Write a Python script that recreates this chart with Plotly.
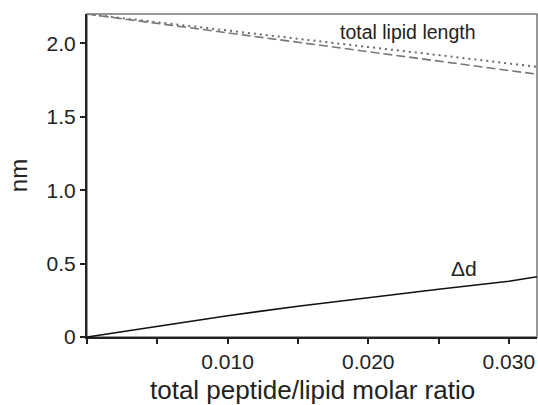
import plotly.graph_objects as go

ratio = [0.0, 0.005, 0.010, 0.015, 0.020, 0.025, 0.030, 0.032]
lipid_total = [2.20, 2.145, 2.09, 2.03, 1.975, 1.92, 1.865, 1.84]
lipid_dashed = [2.20, 2.135, 2.07, 2.005, 1.94, 1.875, 1.815, 1.79]
delta_d = [0.0, 0.075, 0.145, 0.21, 0.27, 0.325, 0.38, 0.41]

x_tickvals = [0.0, 0.010, 0.020, 0.030]
x_ticktext = ["", "0.010", "0.020", "0.030"]
y_tickvals = [0, 0.5, 1.0, 1.5, 2.0]
y_ticktext = ["0", "0.5", "1.0", "1.5", "2.0"]

font = "Liberation Sans, Arial, sans-serif"

fig = go.Figure()
fig.add_trace(go.Scatter(x=ratio, y=lipid_total, mode="lines",
                         line=dict(color="#6a6a6a", width=2, dash="2px,4px")))
fig.add_trace(go.Scatter(x=ratio, y=lipid_dashed, mode="lines",
                         line=dict(color="#777777", width=1.6, dash="9px,4px")))
fig.add_trace(go.Scatter(x=ratio, y=delta_d, mode="lines",
                         line=dict(color="#111111", width=1.6)))

fig.add_annotation(x=0.0228, y=2.075, text="total lipid length", showarrow=False,
                   font=dict(size=19.5, color="#222222", family=font))
fig.add_annotation(x=0.0268, y=0.47, text="Δd", showarrow=False,
                   font=dict(size=21, color="#222222", family=font))
fig.add_annotation(x=0.5, y=0, xref="paper", yref="paper", yanchor="middle",
                   yshift=-53, text="total peptide/lipid molar ratio", showarrow=False,
                   font=dict(size=26, color="#222222", family=font))

fig.add_shape(type="rect", xref="paper", yref="paper", x0=0, y0=0, x1=1, y1=1,
              line=dict(color="#777777", width=1.5), layer="below")

fig.update_layout(
    width=538, height=405,
    margin=dict(l=87, r=1, t=14, b=68),
    paper_bgcolor="white", plot_bgcolor="white",
    showlegend=False,
    font=dict(family=font, color="#222222"),
)
fig.update_xaxes(range=[0, 0.032], tickvals=x_tickvals, ticktext=x_ticktext,
                 automargin=False,
                 ticks="outside", ticklen=5, tickwidth=1.5, tickcolor="#222222",
                 showline=True, linecolor="#222222", linewidth=2,
                 showgrid=False, zeroline=False,
                 minor=dict(tickvals=[0.005, 0.015, 0.025], ticks="outside",
                            ticklen=5, tickwidth=1.5, tickcolor="#222222", showgrid=False),
                 tickfont=dict(size=21, family=font, color="#222222"))
fig.update_yaxes(range=[0, 2.2], tickvals=y_tickvals, ticktext=y_ticktext,
                 automargin=False,
                 ticks="outside", ticklen=5, tickwidth=1.5, tickcolor="#222222",
                 showline=True, linecolor="#222222", linewidth=2,
                 showgrid=False, zeroline=False,
                 tickfont=dict(size=21, family=font, color="#222222"),
                 title=dict(text="nm", standoff=12,
                            font=dict(size=24, family=font, color="#222222")))

fig.write_html("out.html", config={"displayModeBar": False},
               post_script="document.body.style.margin='0';document.body.style.padding='0';")
